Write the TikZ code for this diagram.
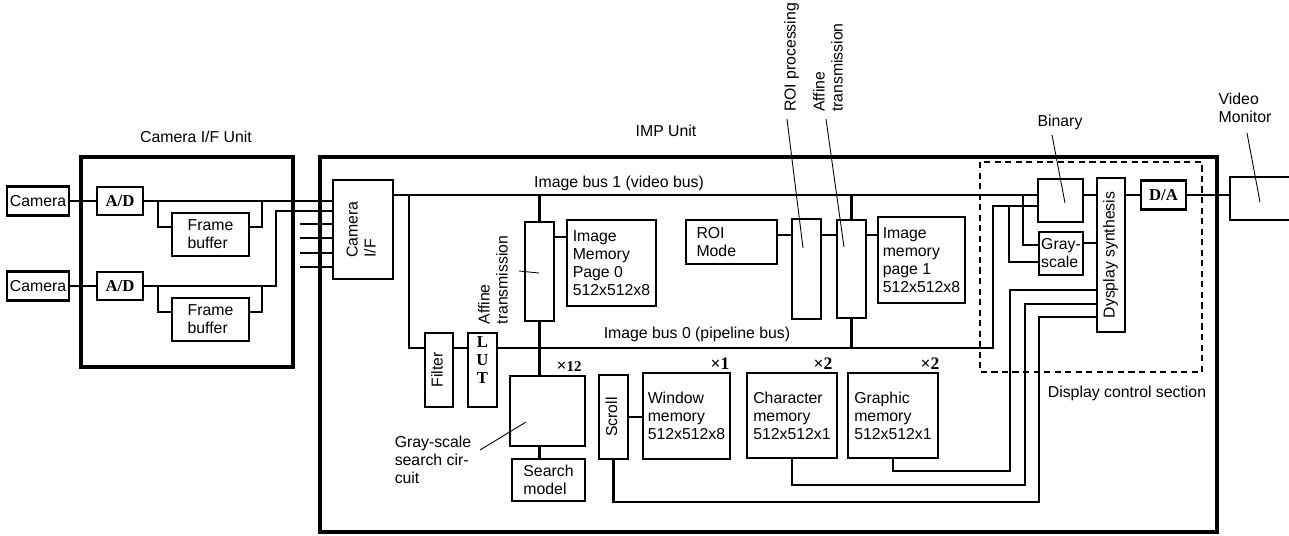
\documentclass[tikz,border=0pt]{standalone}
\usepackage{fontspec}
\setmainfont{Liberation Sans}
\newfontfamily\serifbf{Liberation Serif}
\usetikzlibrary{positioning}
\newcommand{\vtext}[1]{\rotatebox{90}{\begin{tabular}{@{}l@{}}#1\end{tabular}}}

\begin{document}
\begin{tikzpicture}[x=0.02cm,y=-0.02cm,font=\fontsize{9}{10.2}\selectfont,line width=1.2pt,
  blk/.style={draw,line width=1.3pt,inner sep=1pt,align=left},
  sz/.style 2 args={minimum width=#1*0.02cm,minimum height=#2*0.02cm},
  sbold/.style={font=\serifbf\bfseries\fontsize{9.5}{10.5}\selectfont},
  mult/.style={font=\serifbf\bfseries\fontsize{10}{11}\selectfont,inner sep=0},
  unitframe/.style={line width=2pt},
  lead/.style={line width=0.5pt}]
\useasboundingbox (0,0) rectangle (1289,535);
\draw[unitframe] (81,157) rectangle (293,367);
\draw[unitframe] (320,157) rectangle (1217,532);
\draw[line width=1.3pt,dash pattern=on 3.5pt off 2.5pt] (980,162) rectangle (1202,372);
\node (cifunit) at (196,137) {Camera I/F Unit};
\node (impunit) at (666,131) {IMP Unit};
\node[blk,sz={62}{29}] (camA) at (38,201) {Camera};
\node[blk,sz={62}{29}] (camB) at (38,286) {Camera};
\node[blk,sbold,sz={46}{28}] (adA) at (120,201) {A/D};
\node[blk,sbold,sz={46}{28}] (adB) at (120,286) {A/D};
\node[blk,sz={77}{43}] (fbA) at (210.5,234.5) {Frame\\buffer};
\node[blk,sz={77}{43}] (fbB) at (210.5,319.5) {Frame\\buffer};
\node[blk,sz={60}{99}] (camif) at (363,229.5) {\vtext{Camera\\I/F}};
\node[blk,sz={28}{74}] (filter) at (439,370) {\vtext{Filter}};
\node[blk,sz={29}{74}] (lut) at (482.5,370) {};
\node[sbold,align=center,inner sep=0] (luttext) at (482.5,360) {L\\U\\T};
\node[blk,sz={29}{99}] (aff1) at (539.5,271.5) {};
\node[blk,sz={89}{86}] (im0) at (611.5,263) {Image\\Memory\\Page 0\\512x512x8};
\node[blk,sz={91}{44},text width=70*0.02cm] (roimode) at (731.5,242) {ROI\\Mode};
\node[blk,sz={29}{100}] (roip) at (806.5,269) {};
\node[blk,sz={29}{98}] (aff2) at (851.5,269) {};
\node[blk,sz={87}{86}] (im1) at (921.5,260) {Image\\memory\\page 1\\512x512x8};
\node[blk,sz={75}{70}] (gss) at (547.5,411) {};
\node[blk,sz={73}{42}] (search) at (548.5,480) {Search\\model};
\node[blk,sz={29}{84}] (scroll) at (613.5,417) {\vtext{Scroll}};
\node[blk,sz={87}{86}] (winmem) at (686.5,416) {Window\\memory\\512x512x8};
\node[blk,sz={90}{85}] (charmem) at (792,415.5) {Character\\memory\\512x512x1};
\node[blk,sz={90}{85}] (graphmem) at (893,415.5) {Graphic\\memory\\512x512x1};
\node[blk,sz={45}{43}] (binary) at (1060.5,200.5) {};
\node[blk,sz={44}{43},inner sep=0.3pt] (gray) at (1061,253.5) {Gray-\\scale};
\node[blk,sz={28}{154}] (dsyn) at (1111,255) {\vtext{Dysplay synthesis}};
\node[blk,sbold,sz={45}{29}] (da) at (1163.5,195) {D/A};
\node[blk,sz={80}{43}] (mon) at (1270,198.5) {};
\node (bus1lbl) at (619,183) {Image bus 1 (video bus)};
\node (bus0lbl) at (697,334) {Image bus 0 (pipeline bus)};
\node[rotate=90,align=left] (aff1lbl) at (493,280) {Affine\\transmission};
\node[rotate=90,anchor=west,inner sep=0] (roilbl) at (791.5,113) {ROI processing};
\node[rotate=90,anchor=west,inner sep=0,align=left] (aff2lbl) at (828,113) {Affine\\transmission};
\node (binlbl) at (1060,122) {Binary};
\node[align=left] (monlbl) at (1245,108) {Video\\Monitor};
\node (dcslbl) at (1127,393) {Display control section};
\node[align=left] (gsslbl) at (433,460) {Gray-scale\\search cir-\\cuit};
\node[mult] (m12) at (569,367) {×\fontsize{8.5}{9}\selectfont 12};
\node[mult] (m1) at (720,364) {×1};
\node[mult] (m2a) at (823,364) {×2};
\node[mult] (m2b) at (930,364) {×2};
\draw (camA.east) -- (adA.west);
\draw (camB.east) -- (adB.west);
\draw (adA.east) -- (adA.east -| camif.west);
\draw (adB.east) -| (276,211) -- (camif.west |- 0,211);
\draw (158,201) |- (fbA.west |- 0,227) (fbA.east |- 0,227) -| (262,201);
\draw (158,286) |- (fbB.west |- 0,312) (fbB.east |- 0,312) -| (262,286);
\foreach \y in {224,238,253,267} \draw (300,\y) -- (camif.west |- 0,\y);
\draw (camif.east |- 0,195) -- (binary.west |- 0,195);
\draw (409,195) |- (filter.west |- 0,348);
\draw (filter.east |- 0,348) -- (lut.west |- 0,348);
\draw (lut.east |- 0,348) -| (993,206) -- (binary.west |- 0,206);
\draw (aff1.north) -- (aff1.north |- 0,195);
\draw (aff1.south) -- (aff1.south |- gss.north);
\draw (aff1.east |- 0,237) -- (im0.west |- 0,237);
\draw (roimode.east |- 0,235) -- (roip.west |- 0,235);
\draw (roip.east |- 0,235) -- (aff2.west |- 0,235);
\draw (aff2.east |- 0,235) -- (im1.west |- 0,235);
\draw (aff2.north) -- (aff2.north |- 0,195);
\draw (aff2.south) -- (aff2.south |- 0,348);
\draw (aff1.south |- gss.south) -- (aff1.south |- search.north);
\draw (scroll.east) -- (scroll.east -| winmem.west);
\draw (binary.east |- 0,195) -- (dsyn.west |- 0,195);
\draw (gray.east |- 0,243) -- (dsyn.west |- 0,243);
\draw (dsyn.east |- 0,195) -- (da.west);
\draw (da.east) -- (mon.west |- da.east);
\draw (1023,195) |- (gray.west |- 0,245);
\draw (1009,206) |- (gray.west |- 0,262);
\draw (graphmem.south) |- (1010,471) |- (dsyn.west |- 0,290);
\draw (charmem.south) |- (1025,485) |- (dsyn.west |- 0,304);
\draw (scroll.south) |- (1039,502) |- (dsyn.west |- 0,317);
\draw[lead] (1052,135) -- (1065,203);
\draw[lead] (1247,133) -- (1260,202);
\draw[lead] (519,271) -- (539,273);
\draw[lead] (480,450) -- (526,422);
\draw[lead] (787,119) -- (803,248);
\draw[lead] (826,119) -- (844,247);
\end{tikzpicture}
\end{document}
